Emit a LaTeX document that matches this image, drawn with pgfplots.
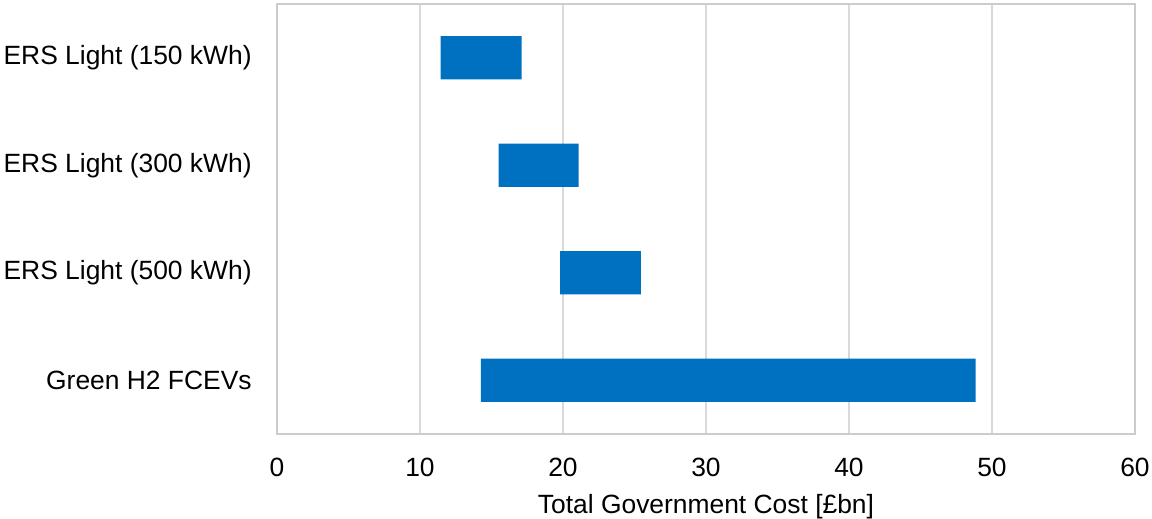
\documentclass[border=0pt]{standalone}
\usepackage{pgfplots}
\pgfplotsset{compat=1.18}
\usepackage{pgfplotstable}
\usepackage{fontspec}
\setmainfont{Liberation Sans}

\definecolor{barblue}{HTML}{0070C0}
\definecolor{gridgray}{HTML}{D9D9D9}
\definecolor{framegray}{HTML}{CCCCCC}

% Cost ranges [GBP bn]: lower and upper estimate per option
\pgfplotstableread{
pos start end
3   11.45 17.10
2   15.50 21.10
1   19.80 25.45
0   14.25 48.85
}\costdata

\begin{document}
\begin{tikzpicture}
\useasboundingbox (-138.5pt,-42.5pt) rectangle (437.5pt,217pt);
\begin{axis}[
  scale only axis,
  width=429pt, height=215pt,
  xbar stacked,
  bar width=21.65pt,
  xmin=0, xmax=60,
  ymin=-0.5, ymax=3.5,
  xtick={0,10,...,60},
  ytick={0,1,2,3},
  yticklabels={Green H2 FCEVs, ERS Light (500 kWh), ERS Light (300 kWh), ERS Light (150 kWh)},
  major tick length=0pt,
  xmajorgrids,
  grid style={draw=gridgray, line width=0.8pt},
  axis line style={draw=framegray, line width=0.8pt},
  font=\fontsize{13.2}{15.5}\selectfont,
  /pgf/number format/assume math mode=true,
  y tick label style={anchor=east, inner sep=0pt, xshift=-12.5pt},
  x tick label style={anchor=north, inner sep=0pt, yshift=-11.6pt},
  xlabel={Total Government Cost [£bn]},
  xlabel style={at={(axis description cs:0.5,0)}, anchor=north, inner sep=0pt, yshift=-30.1pt},
]
\addplot[draw=none, fill=none] table[x=start, y=pos] {\costdata};
\addplot[fill=barblue, draw=none] table[x expr=\thisrow{end}-\thisrow{start}, y=pos] {\costdata};
\end{axis}
\end{tikzpicture}
\end{document}
